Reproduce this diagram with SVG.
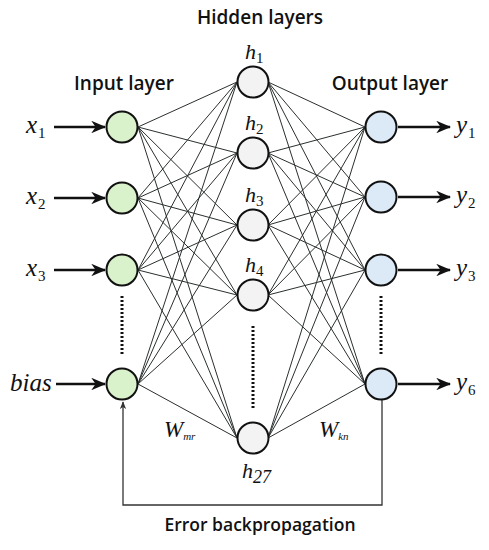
<svg xmlns="http://www.w3.org/2000/svg" width="489" height="550" viewBox="0 0 489 550">
<defs>
<style>
.title{font-family:"Open Sans","Noto Sans",sans-serif;font-weight:600;font-size:19px;fill:#111;text-anchor:middle}
.var{font-family:"Liberation Serif","DejaVu Serif",serif;font-style:italic;font-size:25px;fill:#111}
.hv{font-family:"Liberation Serif","DejaVu Serif",serif;font-style:italic;font-size:22px;fill:#111}
.sub{font-size:15px;font-style:normal}
.w{font-family:"Liberation Serif","DejaVu Serif",serif;font-style:italic;font-size:23px;fill:#111}
.ws{font-size:11px}
.in{fill:#daf2cc;stroke:#111;stroke-width:2}
.hid{fill:#f3f3f3;stroke:#111;stroke-width:2}
.out{fill:#dce9f7;stroke:#111;stroke-width:2}
.e{stroke:#2a2f2f;stroke-width:1;fill:none}
.arr{stroke:#111;stroke-width:2.5;fill:none;marker-end:url(#ah)}
.fb{stroke:#333;stroke-width:1.3;fill:none;marker-end:url(#sh)}
.dot{stroke:#111;stroke-width:3;stroke-dasharray:2 2;fill:none}
</style>
<marker id="ah" viewBox="0 0 12 10" refX="11" refY="5" markerWidth="6" markerHeight="5" orient="auto" markerUnits="strokeWidth">
<path d="M0,0 L12,5 L0,10 L3.5,5 Z" fill="#111"/>
</marker>
<marker id="sh" viewBox="0 0 10 10" refX="9" refY="5" markerWidth="6" markerHeight="6" orient="auto" markerUnits="strokeWidth">
<path d="M0,1 L10,5 L0,9 L2.5,5 Z" fill="#333"/>
</marker>
</defs>
<rect width="489" height="550" fill="#fff"/>

<text class="title" x="260" y="24">Hidden layers</text>
<text class="title" x="124" y="90">Input layer</text>
<text class="title" x="390" y="90">Output layer</text>

<g id="connectors">
<g id="ih">
<path class="e" d="M138,127 L237,82 M138,127 L237,153 M138,127 L237,225 M138,127 L237,295 M138,127 L237,438"/>
<path class="e" d="M138,198 L237,82 M138,198 L237,153 M138,198 L237,225 M138,198 L237,295 M138,198 L237,438"/>
<path class="e" d="M138,270 L237,82 M138,270 L237,153 M138,270 L237,225 M138,270 L237,295 M138,270 L237,438"/>
<path class="e" d="M138,384 L237,82 M138,384 L237,153 M138,384 L237,225 M138,384 L237,295 M138,384 L237,438"/>
</g>
<g id="ho">
<path class="e" d="M268,82 L365,127 M268,82 L365,197 M268,82 L365,270 M268,82 L365,384"/>
<path class="e" d="M268,153 L365,127 M268,153 L365,197 M268,153 L365,270 M268,153 L365,384"/>
<path class="e" d="M268,225 L365,127 M268,225 L365,197 M268,225 L365,270 M268,225 L365,384"/>
<path class="e" d="M268,295 L365,127 M268,295 L365,197 M268,295 L365,270 M268,295 L365,384"/>
<path class="e" d="M268,438 L365,127 M268,438 L365,197 M268,438 L365,270 M268,438 L365,384"/>
</g>
<g id="inarrows">
<path class="arr" d="M54,127 L105,127"/>
<path class="arr" d="M54,198 L105,198"/>
<path class="arr" d="M54,270 L105,270"/>
<path class="arr" d="M56,384 L105,384"/>
</g>
<g id="outarrows">
<path class="arr" d="M398,127 L450,127"/>
<path class="arr" d="M398,197 L450,197"/>
<path class="arr" d="M398,270 L450,270"/>
<path class="arr" d="M398,384 L450,384"/>
</g>
<path id="feedback" class="fb" d="M382,400 L382,505 L123,505 L123,402"/>
<path class="dot" d="M122,296 L122,355"/>
<path class="dot" d="M253,326 L253,408"/>
<path class="dot" d="M381,296 L381,355"/>
</g>

<g id="input1"><circle class="in" cx="122" cy="127" r="15.5"/></g>
<g id="input2"><circle class="in" cx="122" cy="198" r="15.5"/></g>
<g id="input3"><circle class="in" cx="122" cy="270" r="15.5"/></g>
<g id="inputbias"><circle class="in" cx="122" cy="384" r="15.5"/></g>

<g id="hidden1"><circle class="hid" cx="253" cy="82" r="15.5"/></g>
<g id="hidden2"><circle class="hid" cx="253" cy="153" r="15.5"/></g>
<g id="hidden3"><circle class="hid" cx="253" cy="225" r="15.5"/></g>
<g id="hidden4"><circle class="hid" cx="253" cy="295" r="15.5"/></g>
<g id="hidden27"><circle class="hid" cx="253" cy="438" r="15.5"/></g>

<g id="output1"><circle class="out" cx="381" cy="127" r="15.5"/></g>
<g id="output2"><circle class="out" cx="381" cy="197" r="15.5"/></g>
<g id="output3"><circle class="out" cx="381" cy="270" r="15.5"/></g>
<g id="output6"><circle class="out" cx="381" cy="384" r="15.5"/></g>

<g id="labels">
<text class="var" x="26" y="133">x<tspan class="sub" dx="1" dy="5">1</tspan></text>
<text class="var" x="26" y="204">x<tspan class="sub" dx="1" dy="5">2</tspan></text>
<text class="var" x="26" y="276">x<tspan class="sub" dx="1" dy="5">3</tspan></text>
<text class="var" x="10" y="391">bias</text>
<text class="var" x="456" y="133">y<tspan class="sub" dx="1" dy="5">1</tspan></text>
<text class="var" x="456" y="203">y<tspan class="sub" dx="1" dy="5">2</tspan></text>
<text class="var" x="456" y="276">y<tspan class="sub" dx="1" dy="5">3</tspan></text>
<text class="var" x="456" y="390">y<tspan class="sub" dx="1" dy="5" font-style="italic">6</tspan></text>
<text class="hv" x="245" y="59">h<tspan class="sub" dy="4">1</tspan></text>
<text class="hv" x="245" y="130">h<tspan class="sub" dy="4">2</tspan></text>
<text class="hv" x="245" y="202">h<tspan class="sub" dy="4">3</tspan></text>
<text class="hv" x="245" y="272">h<tspan class="sub" dy="4">4</tspan></text>
<text class="hv" x="242" y="478">h<tspan font-size="18" dy="5">27</tspan></text>
<text class="w" x="164" y="437">W<tspan class="ws" dy="3">mr</tspan></text>
<text class="w" x="319" y="437">W<tspan class="ws" dy="3">kn</tspan></text>
</g>

<text class="title" x="260" y="531" style="font-size:17.5px">Error backpropagation</text>
</svg>
